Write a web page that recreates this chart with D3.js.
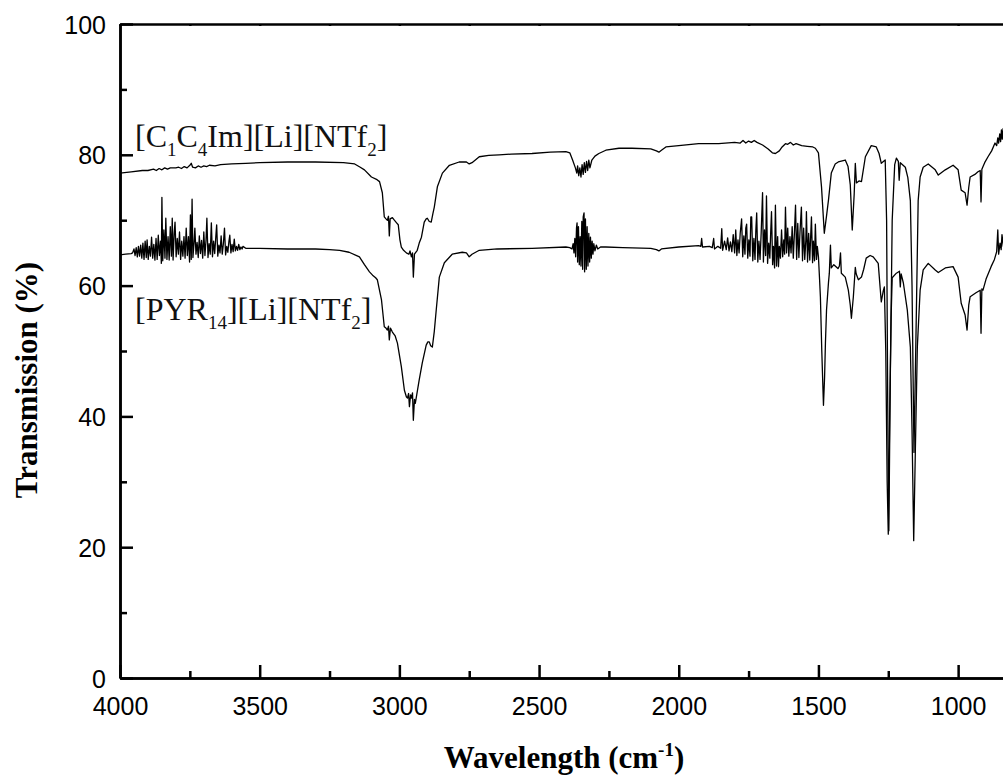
<!DOCTYPE html>
<html>
<head>
<meta charset="utf-8">
<script src="https://cdn.jsdelivr.net/npm/d3@7"></script>
<style>
  html, body { margin: 0; padding: 0; background: #fff; }
  svg { display: block; }
</style>
</head>
<body>
<div id="chart"></div>
<script>
// Tick values
const xMajorTicks = [4000, 3500, 3000, 2500, 2000, 1500, 1000];
const xMinorTicks = [3750, 3250, 2750, 2250, 1750, 1250];
const yMajorTicks = [0, 20, 40, 60, 80, 100];
const yMinorTicks = [10, 30, 50, 70, 90];

// Series labels: [text, isSubscript]
const seriesLabels = [
  { parts: [['[C', 0], ['1', 1], ['C', 0], ['4', 1], ['Im][Li][NTf', 0], ['2', 1], [']', 0]] },
  { parts: [['[PYR', 0], ['14', 1], ['][Li][NTf', 0], ['2', 1], [']', 0]] }
];

// [C1C4Im][Li][NTf2] spectrum: [wavenumber (cm-1), transmission (%)]
const c1c4Spectrum = [
  [4000, 77.2], [3960, 77.4], [3920, 77.6], [3900, 77.6], [3880, 77.8], [3870, 77.6], [3860, 77.9],
  [3850, 77.7], [3840, 78.0], [3830, 77.8], [3820, 78.0], [3800, 78.0], [3790, 78.1], [3780, 77.9],
  [3770, 78.2], [3760, 78.0], [3750, 78.4], [3745, 78.7], [3740, 78.1], [3730, 78.0], [3720, 78.3],
  [3710, 78.1], [3700, 78.3], [3690, 78.2], [3680, 78.4], [3660, 78.3], [3640, 78.5], [3600, 78.6],
  [3550, 78.7], [3500, 78.8], [3400, 78.9], [3300, 78.9], [3200, 78.8], [3160, 78.6], [3140, 78.1],
  [3125, 77.7], [3100, 76.6], [3080, 76.2], [3071, 75.9], [3061, 74.2], [3054, 70.5], [3048, 70.2],
  [3043, 70.0], [3039, 70.6], [3036, 67.6], [3033, 70.2], [3025, 70.4], [3018, 70.0], [3010, 69.6],
  [3004, 69.3], [2998, 67.0], [2993, 65.9], [2985, 65.4], [2975, 65.0], [2966, 64.8], [2962, 65.3],
  [2957, 64.4], [2953, 65.0], [2950, 61.3], [2946, 64.8], [2936, 65.4], [2929, 66.5], [2921, 67.4],
  [2911, 69.7], [2904, 70.2], [2900, 70.3], [2893, 69.8], [2886, 69.7], [2880, 71.0], [2875, 72.0],
  [2864, 75.1], [2846, 77.2], [2821, 78.4], [2786, 78.9], [2760, 78.9], [2750, 78.6], [2740, 78.8],
  [2714, 79.7], [2680, 79.9], [2643, 80.0], [2600, 80.1], [2525, 80.2], [2460, 80.4], [2404, 80.5],
  [2390, 80.3], [2380, 79.2], [2370, 78.0], [2365, 77.2], [2362, 78.3], [2358, 76.8], [2354, 78.0],
  [2350, 76.6], [2346, 78.5], [2342, 77.0], [2338, 78.8], [2334, 77.3], [2330, 79.0], [2326, 77.6],
  [2322, 79.2], [2318, 78.0], [2311, 79.2], [2300, 79.8], [2286, 80.2], [2261, 80.7], [2214, 81.0],
  [2168, 81.0], [2100, 80.9], [2080, 80.6], [2071, 80.4], [2062, 80.7], [2046, 81.2], [2000, 81.4],
  [1929, 81.7], [1857, 81.7], [1800, 81.9], [1780, 81.8], [1770, 82.2], [1760, 81.8], [1750, 82.1],
  [1740, 81.9], [1730, 82.2], [1720, 81.9], [1700, 81.5], [1680, 80.9], [1665, 80.3], [1654, 80.2],
  [1640, 80.6], [1630, 81.2], [1618, 81.7], [1610, 81.6], [1600, 81.9], [1590, 81.5], [1580, 81.7],
  [1560, 81.4], [1540, 81.3], [1520, 81.2], [1511, 81.0], [1500, 80.3], [1489, 75.1], [1479, 68.0],
  [1470, 71.0], [1464, 73.1], [1454, 77.2], [1440, 78.6], [1429, 78.9], [1404, 79.2], [1394, 78.2],
  [1386, 75.4], [1379, 68.5], [1372, 74.0], [1368, 78.7], [1364, 75.7], [1355, 76.0], [1346, 75.9],
  [1332, 79.7], [1311, 81.4], [1293, 81.2], [1283, 80.2], [1275, 78.7], [1261, 79.2], [1256, 70.0],
  [1252, 42.0], [1248, 22.5], [1243, 45.0], [1236, 70.0], [1227, 78.5], [1221, 79.5], [1214, 79.0],
  [1211, 76.1], [1207, 78.8], [1189, 78.1], [1180, 76.5], [1171, 73.0], [1165, 60.0], [1158, 34.5],
  [1151, 52.0], [1143, 73.0], [1136, 76.6], [1125, 78.1], [1107, 78.6], [1082, 77.7], [1071, 76.9],
  [1046, 77.7], [1018, 78.4], [1000, 77.7], [989, 74.6], [975, 74.2], [968, 72.3], [962, 75.0],
  [957, 76.6], [940, 77.0], [929, 77.4], [921, 77.6], [918, 72.8], [915, 77.8], [905, 78.8],
  [893, 79.7], [880, 80.6], [868, 81.8], [862, 81.4], [858, 82.6], [855, 81.8], [851, 83.2],
  [848, 82.0], [845, 83.8], [842, 82.4], [839, 84.0], [835, 82.8], [830, 84.2], [820, 84.5], [800, 85.0]
];

// [PYR14][Li][NTf2] spectrum
const pyrSpectrum = [
  [4000, 64.7], [3980, 64.8], [3960, 64.9], [3955, 65.0], [3950, 65.6], [3946, 64.6], [3942, 65.8],
  [3938, 64.4], [3934, 66.0], [3930, 64.5], [3926, 66.2], [3922, 64.2], [3918, 66.5], [3914, 64.0],
  [3910, 66.8], [3906, 64.3], [3903, 67.0], [3899, 64.0], [3895, 66.0], [3891, 64.5], [3887, 67.4],
  [3883, 64.2], [3879, 66.3], [3875, 63.9], [3871, 67.2], [3867, 64.0], [3863, 67.7], [3859, 64.6],
  [3855, 66.8], [3852, 63.4], [3850, 73.5], [3847, 63.8], [3843, 68.5], [3839, 64.2], [3836, 70.3],
  [3832, 64.0], [3828, 67.5], [3824, 63.9], [3820, 69.0], [3816, 64.5], [3813, 70.3], [3810, 63.9],
  [3806, 68.0], [3803, 69.7], [3799, 64.4], [3795, 67.2], [3791, 64.8], [3787, 68.2], [3783, 64.0],
  [3779, 66.8], [3775, 64.5], [3771, 67.5], [3767, 64.2], [3763, 68.8], [3759, 64.6], [3755, 67.5],
  [3751, 63.6], [3748, 70.8], [3745, 64.0], [3742, 73.2], [3739, 64.3], [3735, 66.5], [3732, 68.8],
  [3728, 64.8], [3724, 66.6], [3720, 64.3], [3716, 67.6], [3712, 64.9], [3708, 66.9], [3704, 64.2],
  [3700, 68.2], [3696, 64.6], [3692, 67.0], [3689, 70.3], [3685, 64.3], [3681, 66.4], [3677, 64.8],
  [3673, 69.6], [3669, 64.4], [3665, 66.8], [3661, 64.9], [3657, 67.5], [3654, 69.3], [3650, 64.5],
  [3646, 66.2], [3642, 65.0], [3638, 67.6], [3634, 64.8], [3630, 66.4], [3626, 68.8], [3622, 64.7],
  [3618, 66.0], [3614, 65.1], [3610, 66.8], [3607, 67.7], [3603, 65.0], [3599, 66.3], [3595, 65.2],
  [3591, 67.1], [3587, 65.3], [3583, 66.0], [3579, 65.4], [3575, 66.3], [3571, 65.5], [3567, 65.9],
  [3563, 65.6], [3560, 66.0], [3550, 65.7], [3500, 65.7], [3400, 65.6], [3300, 65.6], [3250, 65.5],
  [3214, 65.4], [3180, 65.1], [3143, 64.4], [3125, 63.2], [3107, 62.1], [3096, 61.6], [3085, 61.2],
  [3079, 60.9], [3064, 57.8], [3054, 53.7], [3048, 53.5], [3043, 53.2], [3039, 53.8], [3036, 51.7],
  [3032, 53.5], [3025, 52.9], [3015, 52.3], [3007, 51.2], [2993, 47.6], [2982, 44.0], [2975, 43.0],
  [2971, 42.8], [2967, 43.5], [2964, 41.5], [2960, 43.3], [2957, 42.8], [2953, 43.6], [2950, 39.4],
  [2946, 42.6], [2943, 42.0], [2936, 43.8], [2929, 45.6], [2918, 48.2], [2904, 50.9], [2898, 51.4],
  [2893, 51.4], [2888, 50.8], [2882, 50.6], [2875, 53.0], [2868, 56.3], [2857, 61.3], [2839, 63.5],
  [2811, 64.8], [2775, 65.1], [2760, 65.0], [2750, 64.4], [2740, 64.8], [2714, 65.4], [2650, 65.6],
  [2525, 65.7], [2404, 65.9], [2390, 65.8], [2382, 65.6], [2378, 66.4], [2375, 65.0], [2372, 67.2],
  [2369, 64.4], [2366, 68.8], [2364, 69.6], [2362, 63.6], [2359, 69.0], [2356, 63.2], [2353, 67.5],
  [2350, 63.0], [2347, 69.8], [2344, 62.5], [2342, 70.5], [2339, 71.1], [2337, 62.1], [2334, 70.2],
  [2331, 62.5], [2328, 69.0], [2325, 63.0], [2322, 68.0], [2319, 63.6], [2316, 67.4], [2313, 64.2],
  [2310, 66.8], [2307, 64.8], [2304, 66.4], [2300, 65.3], [2295, 66.2], [2290, 65.6], [2280, 65.9],
  [2261, 65.9], [2200, 65.8], [2100, 65.7], [2080, 65.5], [2071, 65.3], [2062, 65.6], [2000, 65.9],
  [1929, 66.1], [1921, 66.0], [1918, 67.2], [1915, 65.9], [1890, 66.0], [1880, 65.8], [1875, 67.2],
  [1872, 65.6], [1860, 66.0], [1850, 65.7], [1846, 68.7], [1843, 65.4], [1836, 66.8], [1830, 65.5],
  [1825, 67.3], [1820, 65.3], [1815, 66.7], [1810, 65.2], [1805, 67.8], [1800, 65.0], [1796, 68.5],
  [1792, 64.6], [1788, 67.0], [1784, 65.0], [1780, 68.0], [1775, 70.2], [1771, 64.4], [1767, 67.6],
  [1763, 64.8], [1760, 68.8], [1757, 69.4], [1753, 64.2], [1749, 67.0], [1745, 64.5], [1742, 70.5],
  [1739, 70.5], [1735, 63.8], [1731, 67.2], [1727, 64.0], [1724, 68.5], [1721, 71.1], [1717, 63.6],
  [1713, 66.8], [1709, 64.0], [1705, 68.0], [1700, 74.2], [1697, 63.6], [1693, 68.5], [1689, 64.6],
  [1686, 73.7], [1682, 63.4], [1678, 66.5], [1674, 64.2], [1671, 68.0], [1668, 71.3], [1664, 63.2],
  [1661, 66.0], [1657, 62.7], [1654, 72.3], [1650, 63.0], [1646, 67.5], [1643, 62.9], [1640, 66.0],
  [1636, 64.2], [1632, 68.5], [1628, 64.4], [1624, 67.0], [1621, 64.8], [1618, 72.0], [1614, 65.0],
  [1610, 68.8], [1606, 64.5], [1602, 67.5], [1598, 65.0], [1594, 69.0], [1590, 64.2], [1586, 68.0],
  [1582, 72.3], [1578, 64.0], [1574, 69.5], [1570, 64.3], [1566, 68.2], [1561, 72.0], [1557, 63.8],
  [1553, 68.8], [1549, 64.0], [1545, 67.0], [1543, 71.3], [1539, 63.6], [1535, 68.0], [1531, 63.9],
  [1528, 67.3], [1525, 70.5], [1521, 63.5], [1518, 66.8], [1514, 63.8], [1511, 69.4], [1507, 64.0],
  [1504, 66.0], [1500, 64.4], [1496, 61.0], [1493, 58.3], [1488, 50.0], [1482, 41.7], [1478, 46.0],
  [1475, 51.2], [1471, 56.3], [1464, 60.5], [1461, 61.9], [1457, 66.2], [1454, 62.7], [1445, 63.2],
  [1430, 62.6], [1425, 63.0], [1421, 65.0], [1418, 61.9], [1404, 61.3], [1393, 59.3], [1386, 57.0],
  [1382, 55.0], [1375, 58.3], [1370, 61.5], [1368, 62.8], [1365, 61.8], [1357, 60.9], [1346, 61.3],
  [1338, 62.5], [1329, 64.2], [1315, 64.6], [1304, 64.4], [1286, 63.4], [1279, 59.6], [1275, 57.5],
  [1268, 59.2], [1264, 59.8], [1259, 50.0], [1254, 30.0], [1250, 22.0], [1245, 40.0], [1240, 55.0],
  [1236, 61.2], [1221, 61.9], [1210, 62.2], [1207, 59.8], [1204, 61.8], [1196, 60.4], [1182, 56.3],
  [1171, 50.6], [1165, 38.0], [1159, 21.0], [1153, 35.0], [1146, 50.6], [1136, 59.3], [1125, 62.4],
  [1107, 63.4], [1082, 62.4], [1071, 62.0], [1046, 62.7], [1018, 62.9], [1000, 61.3], [989, 57.3],
  [975, 55.5], [968, 53.2], [962, 57.0], [957, 58.3], [936, 58.9], [921, 59.3], [918, 52.7],
  [915, 59.5], [911, 59.3], [900, 61.0], [882, 62.9], [870, 64.0], [862, 65.2], [858, 68.5],
  [855, 64.8], [850, 66.5], [846, 65.5], [843, 67.8], [838, 66.0], [830, 67.0], [820, 67.5], [800, 68.0]
];

const width = 1003;
const height = 782;

const svg = d3.select('#chart')
  .append('svg')
  .attr('width', width)
  .attr('height', height)
  .style('background', '#fff');

const x = d3.scaleLinear().domain([4000, 800]).range([120, 1014]);
const y = d3.scaleLinear().domain([0, 100]).range([678, 24]);

// Clip to the visible plot area
svg.append('clipPath')
  .attr('id', 'plot-clip')
  .append('rect')
  .attr('x', 120)
  .attr('y', 0)
  .attr('width', width - 120)
  .attr('height', 700);

const line = d3.line()
  .x(d => x(d[0]))
  .y(d => y(d[1]));

const plot = svg.append('g').attr('clip-path', 'url(#plot-clip)');

[c1c4Spectrum, pyrSpectrum].forEach(series => {
  plot.append('path')
    .datum(series)
    .attr('d', line)
    .attr('fill', 'none')
    .attr('stroke', '#000')
    .attr('stroke-width', 1.3)
    .attr('stroke-linejoin', 'round');
});

const tickFont = '"Liberation Sans", Arial, sans-serif';
const fmt = d3.format('d');

// Bottom axis
const xAxis = svg.append('g')
  .attr('transform', `translate(0,${y(0)})`)
  .call(d3.axisBottom(x).tickValues(xMajorTicks).tickFormat(fmt).tickSizeInner(-13).tickSizeOuter(0).tickPadding(0));
xAxis.selectAll('.tick text')
  .attr('y', 37)
  .attr('dy', 0)
  .style('font-family', tickFont)
  .style('font-size', '25px')
  .attr('fill', '#000');

svg.append('g')
  .attr('transform', `translate(0,${y(0)})`)
  .call(d3.axisBottom(x).tickValues(xMinorTicks).tickSizeInner(-7).tickSizeOuter(0).tickFormat(''));

// Top axis (tiny ticks)
svg.append('g')
  .attr('transform', `translate(0,${y(100)})`)
  .call(d3.axisTop(x).tickValues(xMajorTicks.concat(xMinorTicks)).tickSizeInner(-2).tickSizeOuter(0).tickFormat(''));

// Left axis
const yAxis = svg.append('g')
  .attr('transform', `translate(${x(4000)},0)`)
  .call(d3.axisLeft(y).tickValues(yMajorTicks).tickFormat(fmt).tickSizeInner(-13).tickSizeOuter(0).tickPadding(0));
yAxis.selectAll('.tick text')
  .attr('x', -14)
  .attr('dy', '0.36em')
  .style('font-family', tickFont)
  .style('font-size', '25px')
  .attr('fill', '#000');

svg.append('g')
  .attr('transform', `translate(${x(4000)},0)`)
  .call(d3.axisLeft(y).tickValues(yMinorTicks).tickSizeInner(-7).tickSizeOuter(0).tickFormat(''));

svg.selectAll('.domain, .tick line')
  .attr('stroke', '#000')
  .attr('stroke-width', 2.5);

// Axis titles
const xTitle = svg.append('text')
  .attr('x', 564)
  .attr('y', 768)
  .attr('text-anchor', 'middle')
  .style('font-family', '"Liberation Serif", "Times New Roman", serif')
  .style('font-weight', 'bold')
  .style('font-size', '31px');
xTitle.append('tspan').text('Wavelength (cm');
xTitle.append('tspan').attr('dy', -12).style('font-size', '19px').text('-1');
xTitle.append('tspan').attr('dy', 12).text(')');

svg.append('text')
  .attr('transform', 'translate(37,380) rotate(-90)')
  .attr('text-anchor', 'middle')
  .style('font-family', '"Liberation Serif", "Times New Roman", serif')
  .style('font-weight', 'bold')
  .style('font-size', '31px')
  .text('Transmission (%)');

// Series labels
const labelPos = [[135, 147], [135, 320]];
seriesLabels.forEach((lab, i) => {
  const t = svg.append('text')
    .attr('x', labelPos[i][0])
    .attr('y', labelPos[i][1])
    .style('font-family', '"Liberation Serif", "Times New Roman", serif')
    .style('font-size', '32px')
    .attr('fill', '#111');
  let shifted = false;
  lab.parts.forEach(([str, sub]) => {
    const span = t.append('tspan').text(str);
    if (sub) {
      span.style('font-size', '19px');
      if (!shifted) { span.attr('dy', 9); shifted = true; }
    } else if (shifted) {
      span.attr('dy', -9);
      shifted = false;
    }
  });
});
</script>
</body>
</html>
